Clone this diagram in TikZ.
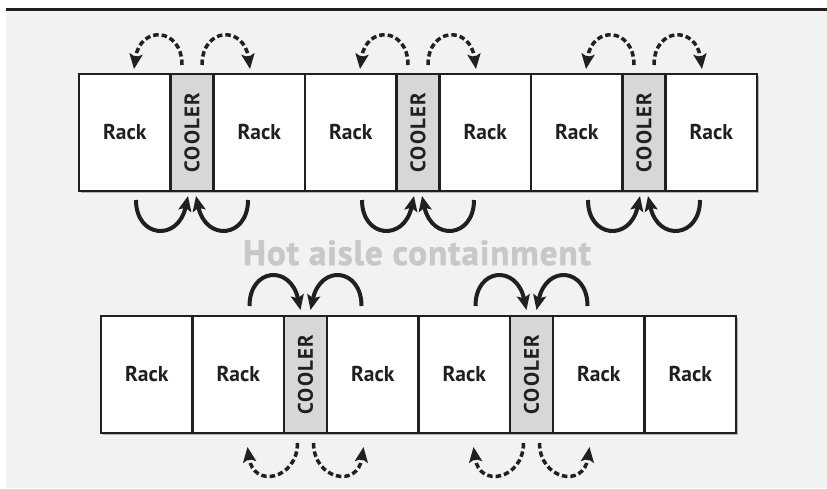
\documentclass[tikz,border=0pt]{standalone}
\usepackage{fontspec}
\setmainfont{PT Sans}
\newfontfamily\headfont[BoldFeatures={FakeBold=1.5}]{PT Sans}
\usepackage{xcolor}
\usepackage{tikz}
\usetikzlibrary{arrows.meta,positioning,calc,shadows}

\definecolor{panelgray}{HTML}{F1F2F2}
\definecolor{ink}{HTML}{231F20}
\definecolor{coolgray}{HTML}{D6D7D8}
\definecolor{titlegray}{HTML}{C7C8CA}

\begin{document}
\begin{tikzpicture}[>=Stealth,x=1pt,y=-1pt,
  rack/.style={draw=ink,line width=2.5pt,fill=white,minimum width=91.5pt,minimum height=117pt,
    inner sep=0pt,outer sep=0pt,font=\fontsize{21.5}{21.5}\selectfont\bfseries,text=ink,
    drop shadow={shadow xshift=1.5pt,shadow yshift=-1.5pt,opacity=0.25,fill=black}},
  cooler/.style={rack,fill=coolgray,minimum width=43pt,
    font=\fontsize{21}{21}\selectfont\bfseries\addfontfeatures{LetterSpace=6}},
  hotflow/.style={ink,line width=4pt,-{Stealth[length=15pt,width=13pt,inset=3pt]}},
  coldflow/.style={ink,line width=3.5pt,dash pattern=on 5.5pt off 3pt,-{Stealth[length=15pt,width=13pt,inset=3pt]}}]
  \useasboundingbox (0,0) rectangle (827,488);
  \fill[panelgray] (6,11) rectangle (827,488);
  \draw[ink,line width=3pt] (6,9.5) -- (827,9.5);

  % upper row
  \node[rack] (tr1) at (124.75,132.5) {Rack};
  \node[cooler,right=0pt of tr1] (tc1) {\rotatebox{90}{COOLER}};
  \node[rack,right=0pt of tc1] (tr2) {Rack};
  \node[rack,right=0pt of tr2] (tr3) {Rack};
  \node[cooler,right=0pt of tr3] (tc2) {\rotatebox{90}{COOLER}};
  \node[rack,right=0pt of tc2] (tr4) {Rack};
  \node[rack,right=0pt of tr4] (tr5) {Rack};
  \node[cooler,right=0pt of tr5] (tc3) {\rotatebox{90}{COOLER}};
  \node[rack,right=0pt of tc3] (tr6) {Rack};

  % lower row
  \node[rack] (br1) at (146.75,374.5) {Rack};
  \node[rack,right=0pt of br1] (br2) {Rack};
  \node[cooler,right=0pt of br2] (bc1) {\rotatebox{90}{COOLER}};
  \node[rack,right=0pt of bc1] (br3) {Rack};
  \node[rack,right=0pt of br3] (br4) {Rack};
  \node[cooler,right=0pt of br4] (bc2) {\rotatebox{90}{COOLER}};
  \node[rack,right=0pt of bc2] (br5) {Rack};
  \node[rack,right=0pt of br5] (br6) {Rack};

  \node[font=\headfont\fontsize{35}{35}\selectfont\bfseries\addfontfeatures{LetterSpace=3},
    text=titlegray,anchor=base] (title) at (417,265) {Hot aisle containment};

  % upper row: cold air out on top, hot air back in below
  \draw[coldflow] ($(tc1.north)+(-10,-9)$) .. controls +(0,-38) and +(6,-44) .. ($(tc1.north)+(-58,-5)$);
  \draw[coldflow] ($(tc1.north)+(10,-9)$) .. controls +(0,-38) and +(-6,-44) .. ($(tc1.north)+(58,-5)$);
  \draw[hotflow] ($(tc1.south)+(-56,9)$) .. controls +(0,38) and +(-10,46) .. ($(tc1.south)+(-4,5)$);
  \draw[hotflow] ($(tc1.south)+(56,9)$) .. controls +(0,38) and +(10,46) .. ($(tc1.south)+(4,5)$);

  \draw[coldflow] ($(tc2.north)+(-10,-9)$) .. controls +(0,-38) and +(6,-44) .. ($(tc2.north)+(-58,-5)$);
  \draw[coldflow] ($(tc2.north)+(10,-9)$) .. controls +(0,-38) and +(-6,-44) .. ($(tc2.north)+(58,-5)$);
  \draw[hotflow] ($(tc2.south)+(-56,9)$) .. controls +(0,38) and +(-10,46) .. ($(tc2.south)+(-4,5)$);
  \draw[hotflow] ($(tc2.south)+(56,9)$) .. controls +(0,38) and +(10,46) .. ($(tc2.south)+(4,5)$);

  \draw[coldflow] ($(tc3.north)+(-10,-9)$) .. controls +(0,-38) and +(6,-44) .. ($(tc3.north)+(-58,-5)$);
  \draw[coldflow] ($(tc3.north)+(10,-9)$) .. controls +(0,-38) and +(-6,-44) .. ($(tc3.north)+(58,-5)$);
  \draw[hotflow] ($(tc3.south)+(-56,9)$) .. controls +(0,38) and +(-10,46) .. ($(tc3.south)+(-4,5)$);
  \draw[hotflow] ($(tc3.south)+(56,9)$) .. controls +(0,38) and +(10,46) .. ($(tc3.south)+(4,5)$);

  % lower row: hot air in on top, cold air out below
  \draw[hotflow] ($(bc1.north)+(-56,-10)$) .. controls +(0,-38) and +(-10,-46) .. ($(bc1.north)+(-5,-6)$);
  \draw[hotflow] ($(bc1.north)+(56,-10)$) .. controls +(0,-38) and +(10,-46) .. ($(bc1.north)+(5,-6)$);
  \draw[coldflow] ($(bc1.south)+(-8,10)$) .. controls +(0,36) and +(6,42) .. ($(bc1.south)+(-58,14)$);
  \draw[coldflow] ($(bc1.south)+(8,10)$) .. controls +(0,36) and +(-6,42) .. ($(bc1.south)+(58,14)$);

  \draw[hotflow] ($(bc2.north)+(-56,-10)$) .. controls +(0,-38) and +(-10,-46) .. ($(bc2.north)+(-5,-6)$);
  \draw[hotflow] ($(bc2.north)+(56,-10)$) .. controls +(0,-38) and +(10,-46) .. ($(bc2.north)+(5,-6)$);
  \draw[coldflow] ($(bc2.south)+(-8,10)$) .. controls +(0,36) and +(6,42) .. ($(bc2.south)+(-58,14)$);
  \draw[coldflow] ($(bc2.south)+(8,10)$) .. controls +(0,36) and +(-6,42) .. ($(bc2.south)+(58,14)$);
\end{tikzpicture}
\end{document}
